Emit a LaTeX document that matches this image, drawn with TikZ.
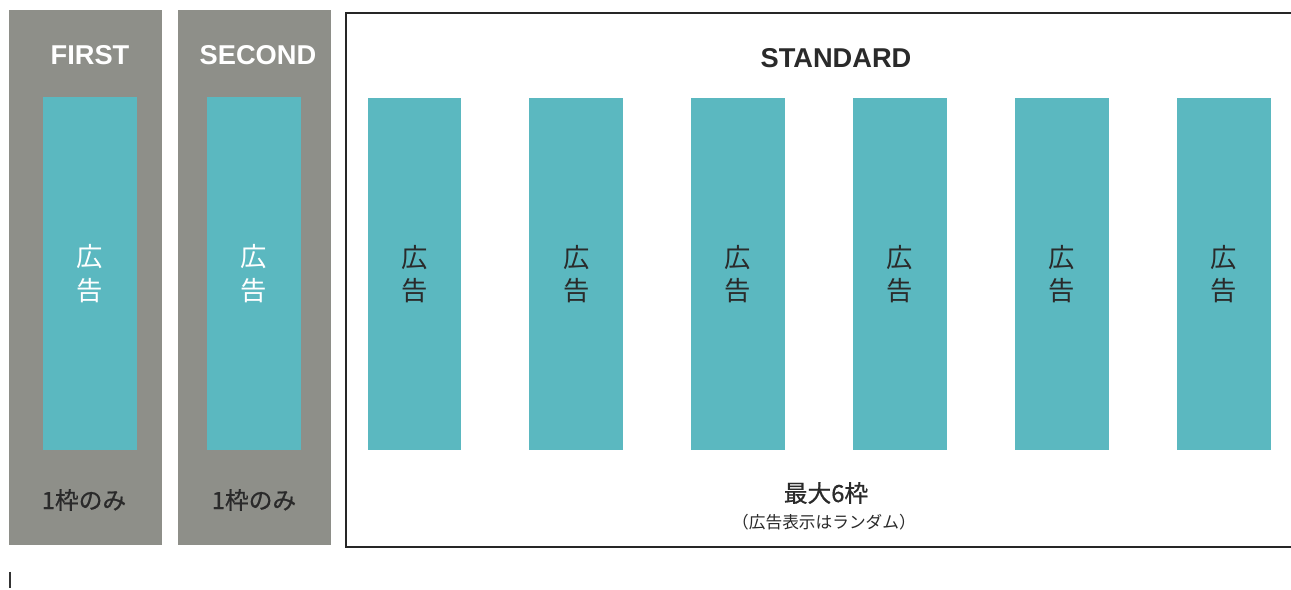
\documentclass[tikz,border=0pt]{standalone}
\usepackage{fontspec}
\setmainfont{Noto Sans CJK JP}
\newfontfamily\latinsans{Liberation Sans}
\newfontfamily\jpheavy[FakeBold=0.7]{Noto Sans CJK JP}
\usepackage{xcolor}
\usetikzlibrary{positioning}
\definecolor{panelgray}{HTML}{8E8F89}
\definecolor{adteal}{HTML}{5BB8C0}
\definecolor{inkdark}{HTML}{2A2A2A}

\tikzset{
  adbox/.style={fill=adteal, minimum width=1.88cm, minimum height=7.06cm, inner sep=0pt,
    align=center, font=\fontsize{15}{19}\selectfont},
  paneltitle/.style={font=\fontsize{15.5}{18}\selectfont\latinsans\bfseries},
  slotnote/.style={text=inkdark, font=\fontsize{13.5}{16}\selectfont\jpheavy}
}

\begin{document}
\begin{tikzpicture}[x=0.02cm, y=-0.02cm]
    \useasboundingbox[fill=white] (0,0) rectangle (1291,590);

    % Gray panels
    \fill[panelgray] (9,10) rectangle (162,545);
    \fill[panelgray] (178,10) rectangle (331,545);

    % Titles
    \node[paneltitle, text=white] (first) at (90,55) {FIRST};
    \node[paneltitle, text=white] (second) at (258,55) {SECOND};

    % Fixed slots
    \node[adbox, text=white] (adfirst) at (90,273.5) {広\\告};
    \node[adbox, text=white] (adsecond) at (254,273.5) {広\\告};
    \node[slotnote] (onefirst) at (84,500) {1枠のみ};
    \node[slotnote] (onesecond) at (254,500) {1枠のみ};

    % Standard frame
    \draw[line width=0.9pt, black!85] (1300,13) -- (346,13) -- (346,547) -- (1300,547);
    \node[paneltitle, text=inkdark] (standard) at (836,58) {STANDARD};

    % Rotating slots
    \foreach \i in {0,...,5} {
        \node[adbox, text=inkdark] (ad\i) at (414.5+161.8*\i,274) {広\\告};
    }

    \node[slotnote] (maxsix) at (826,493) {最大6枠};
    \node[text=inkdark, font=\fontsize{9.5}{12}\selectfont] (random) at (824,522) {（広告表示はランダム）};

    % Stray tick
    \draw[black!80, line width=0.6pt] (10,572) -- (10,588);
\end{tikzpicture}
\end{document}
